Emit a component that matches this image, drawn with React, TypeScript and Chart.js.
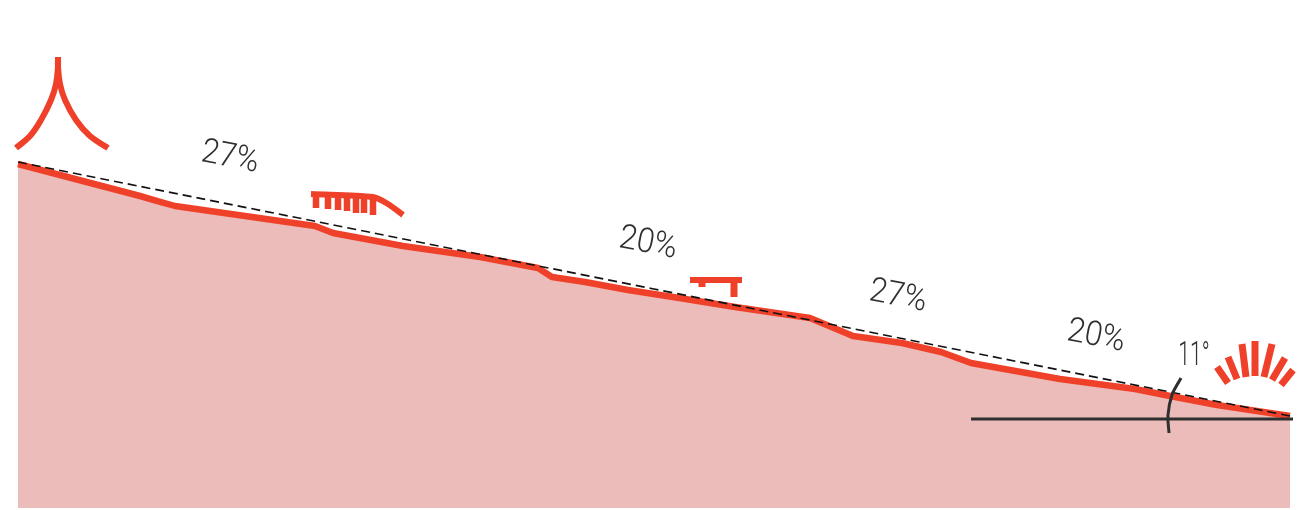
import React, { useEffect, useRef } from "react";
import { Chart, registerables } from "chart.js";

Chart.register(...registerables);

const profileX = [18, 140, 175, 315, 333, 403, 480, 538, 552, 585, 628, 673, 735, 810, 853, 902, 941, 971, 1060, 1135, 1170, 1217, 1290];
const profileY = [164, 196, 206, 226, 233, 246, 257, 268, 277, 282, 290, 297, 307, 318, 336, 343, 352, 363, 379, 389, 396, 405, 416];
const gradeX = [18, 1290];
const gradeY = [162, 416];
const baseX = [971, 1293];
const baseY = [419, 419];
const arcX = [1181, 1172, 1168, 1169];
const arcY = [378, 395, 415, 433];

const peakLeftX = [58, 58, 56, 51, 41, 30, 16];
const peakLeftY = [57, 66, 84, 100, 120, 136, 148];
const peakRightX = [58, 58, 60, 65, 76, 90, 108];
const peakRightY = [57, 66, 84, 100, 120, 136, 148];

const brushX = [311, 373, 388, 403];
const brushY = [194, 197, 204, 215];
const brushTeethX = [316, 328, 338, 347, 356, 364, 373];
const brushTeethY = [208, 209, 210, 211, 213, 213, 215];
const brushTeethTop = 195;

const benchX = [690, 742];
const benchY = [280, 280];
const benchLegX = [702, 734];
const benchLegY = [287, 297];
const benchLegTop = 280;

const rayStartX = [1217, 1228, 1242, 1255, 1272, 1285, 1293];
const rayStartY = [367, 357, 344, 341, 344, 358, 370];
const rayEndX = [1228, 1237, 1246, 1255, 1264, 1272, 1281];
const rayEndY = [383, 379, 377, 376, 377, 380, 385];

const labelTexts = ["27%", "20%", "27%", "20%", "11°"];
const labelX = [230, 648, 898, 1096, 1194];
const labelY = [158, 244, 297, 337, 356];
const labelAngle = [11, 11, 11, 11, 0];
const labelStretch = [0.92, 0.93, 0.92, 0.93, 0.62];

const RED = "#ef4129";
const INK = "#2f2f2f";
const FILL = "#ecbcbb";
const CRISP = 0.0001;

const pts = (xs: number[], ys: number[]) => xs.map((x, i) => ({ x, y: ys[i] }));
const strokes = (x0: number[], y0: number[], x1: number[], y1: number[]) => {
  const out: any[] = [];
  x0.forEach((x, i) => {
    out.push({ x, y: y0[i] }, { x: x1[i], y: y1[i] }, { x: x1[i], y: null });
  });
  return out;
};
const line = (data: any[], color: string, width: number, extra: any = {}) => ({
  data,
  borderColor: color,
  backgroundColor: "transparent",
  borderWidth: width,
  pointRadius: 0,
  fill: false,
  tension: CRISP,
  spanGaps: false,
  borderCapStyle: "butt",
  borderJoinStyle: "round",
  order: 5,
  ...extra,
});

const labelsPlugin = {
  id: "labels",
  afterDatasetsDraw(chart: any) {
    const { ctx, scales } = chart;
    labelTexts.forEach((t, i) => {
      ctx.save();
      ctx.translate(scales.x.getPixelForValue(labelX[i]), scales.y.getPixelForValue(labelY[i]));
      ctx.rotate((labelAngle[i] * Math.PI) / 180);
      ctx.scale(labelStretch[i], 1);
      ctx.font = '300 34px Roboto, "Open Sans", sans-serif';
      ctx.fillStyle = INK;
      ctx.textAlign = "center";
      ctx.textBaseline = "middle";
      ctx.fillText(t, 0, 0);
      ctx.restore();
    });
  },
};

export default function App() {
  const ref = useRef<HTMLCanvasElement>(null);
  useEffect(() => {
    document.body.style.margin = "0";
    const chart = new Chart(ref.current!, {
      type: "line",
      data: {
        datasets: [
          line(pts(profileX, profileY), RED, 6.5, {
            fill: { value: 508 },
            backgroundColor: FILL,
            order: 10,
          }),
          line(pts(gradeX, gradeY), "#111111", 1.6, { borderDash: [9, 5], order: 2 }),
          line(pts(baseX, baseY), INK, 3, { order: 1 }),
          line(pts(arcX, arcY), INK, 3, { tension: 0.4, order: 1 }),
          line(pts(peakLeftX, peakLeftY), RED, 6, { tension: 0.4 }),
          line(pts(peakRightX, peakRightY), RED, 6, { tension: 0.4 }),
          line(pts(brushX, brushY), RED, 6, { tension: 0.3 }),
          line(
            strokes(brushTeethX, brushTeethX.map(() => brushTeethTop), brushTeethX, brushTeethY),
            RED,
            6.5
          ),
          line(pts(benchX, benchY), RED, 6),
          line(
            strokes(benchLegX, benchLegX.map(() => benchLegTop), benchLegX, benchLegY),
            RED,
            7
          ),
          line(strokes(rayStartX, rayStartY, rayEndX, rayEndY), RED, 7),
        ] as any,
      },
      options: {
        animation: false,
        responsive: false,
        parsing: false as any,
        normalized: true,
        layout: { padding: 0 },
        plugins: { legend: { display: false }, tooltip: { enabled: false } },
        scales: {
          x: { type: "linear", min: 0, max: 1302, display: false },
          y: { type: "linear", min: 0, max: 510, reverse: true, display: false },
        },
      } as any,
      plugins: [labelsPlugin],
    });
    return () => chart.destroy();
  }, []);
  return (
    <canvas
      ref={ref}
      width={1302}
      height={510}
      style={{ display: "block", width: 1302, height: 510 }}
    />
  );
}
